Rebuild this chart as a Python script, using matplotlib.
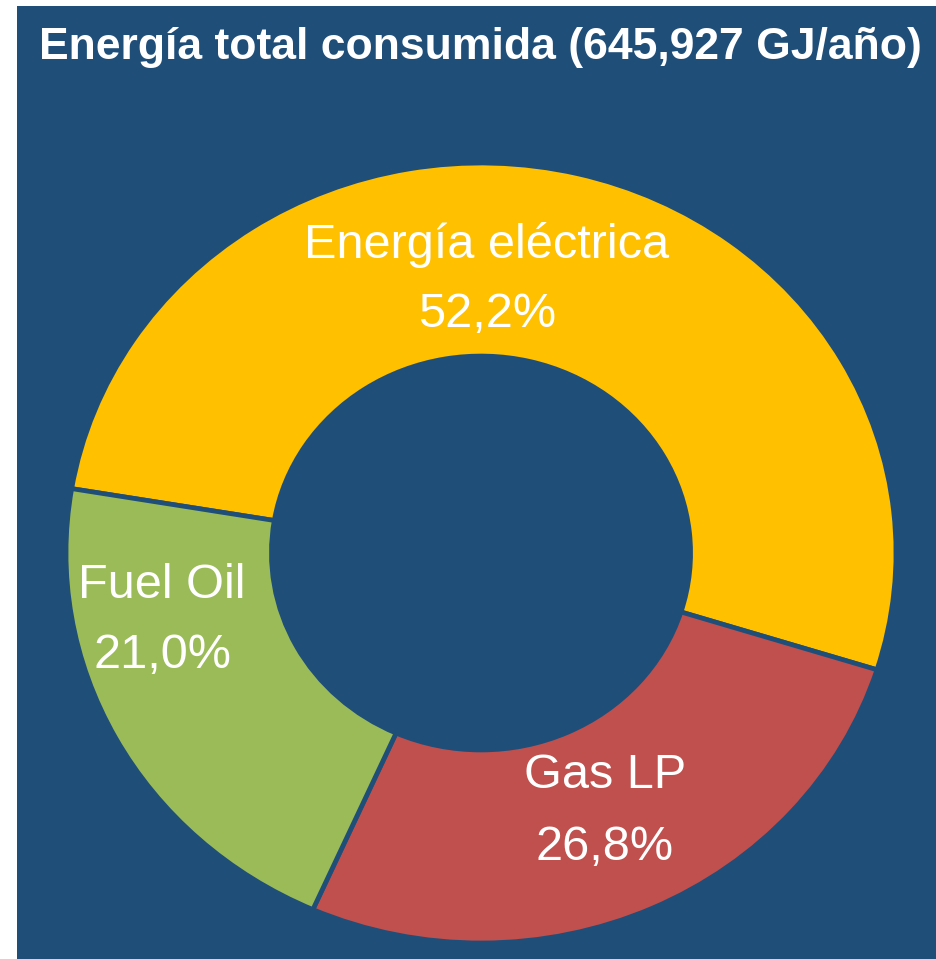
import matplotlib
matplotlib.use("Agg")
import matplotlib.pyplot as plt
from matplotlib.patches import Rectangle
from matplotlib import font_manager

categories = ["Energía eléctrica", "Gas LP", "Fuel Oil"]
values = [52.2, 26.8, 21.0]
pct_labels = ["52,2%", "26,8%", "21,0%"]
colors = ["#FFC000", "#C0504D", "#9BBB59"]
title = "Energía total consumida (645,927 GJ/año)"

BG = "#1F4E79"
W, H = 936, 959
fig = plt.figure(figsize=(W / 100, H / 100), dpi=100, facecolor="white")
bg = Rectangle((17 / W, 0), (W - 17) / W, (H - 6) / H,
               transform=fig.transFigure, facecolor=BG,
               edgecolor="none", zorder=-10)
fig.add_artist(bg)

names = {f.name for f in font_manager.fontManager.ttflist}
title_font = "Liberation Sans Narrow" if "Liberation Sans Narrow" in names else "Liberation Sans"

cx, cy, rx, ry = 481, 553, 415, 390
ax = fig.add_axes([(cx - rx) / W, (H - cy - ry) / H, 2 * rx / W, 2 * ry / H])
ax.set_zorder(1)
ax.set_facecolor("none")
wedges, _ = ax.pie(values, colors=colors, startangle=170.5, counterclock=False,
                   radius=1.0,
                   wedgeprops=dict(width=0.495, edgecolor=BG, linewidth=3.4))
ax.set_aspect("auto")
ax.set_xlim(-1, 1)
ax.set_ylim(-1, 1)
ax.axis("off")

def px(x, y):
    return (x / W, 1 - y / H)

label_pos = [(487, 245, 315), (605, 775, 848), (162, 585, 655)]
for cat, pl, (x, y1, y2) in zip(categories, pct_labels, label_pos):
    fig.text(*px(x, y1), cat, ha="center", va="center", color="white",
             fontsize=35, family="Liberation Sans", zorder=5)
    fig.text(*px(x, y2), pl, ha="center", va="center", color="white",
             fontsize=35, family="Liberation Sans", zorder=5)

fig.text(*px(480, 47), title, ha="center", va="center", color="white",
         fontsize=32, fontweight="bold", family=title_font, zorder=5)

fig.savefig("out.png", dpi=100, facecolor="white")
